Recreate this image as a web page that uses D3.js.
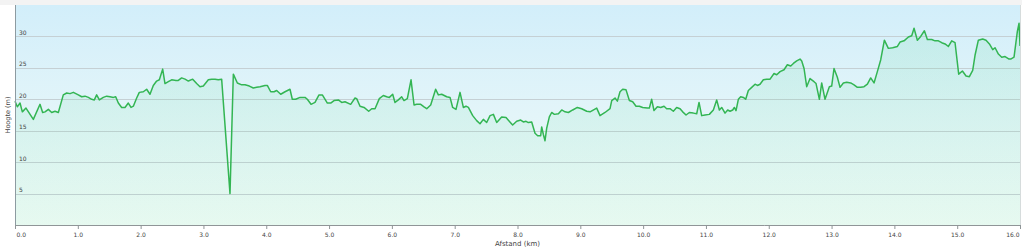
<!DOCTYPE html>
<html><head><meta charset="utf-8">
<script src="https://cdn.jsdelivr.net/npm/d3@7/dist/d3.min.js"></script>
<style>html,body{margin:0;padding:0;background:#fff;}svg{display:block;font-family:"DejaVu Sans",Verdana,sans-serif;}</style>
</head><body><svg id="c" width="1022" height="249"></svg>
<script>
const distKm = [0.000,0.037,0.080,0.117,0.175,0.292,0.398,0.440,0.478,0.531,0.584,0.637,0.690,0.769,0.823,0.876,0.929,1.008,1.061,1.115,1.168,1.221,1.263,1.300,1.343,1.406,1.460,1.513,1.566,1.603,1.645,1.698,1.751,1.804,1.847,1.884,1.937,1.979,2.043,2.096,2.149,2.202,2.255,2.298,2.351,2.388,2.441,2.494,2.563,2.600,2.653,2.707,2.760,2.829,2.892,2.945,2.998,3.078,3.131,3.184,3.237,3.290,3.423,3.476,3.540,3.609,3.662,3.731,3.794,3.847,3.901,3.980,4.017,4.071,4.124,4.166,4.230,4.299,4.378,4.415,4.468,4.538,4.617,4.654,4.713,4.776,4.840,4.893,4.973,5.026,5.079,5.148,5.201,5.254,5.344,5.413,5.440,5.493,5.557,5.631,5.679,5.732,5.800,5.864,5.917,5.960,6.013,6.050,6.103,6.156,6.193,6.246,6.305,6.353,6.395,6.459,6.512,6.555,6.618,6.697,6.740,6.793,6.873,6.926,6.968,7.021,7.085,7.138,7.180,7.218,7.287,7.350,7.403,7.456,7.509,7.563,7.616,7.669,7.748,7.817,7.923,7.987,8.051,8.093,8.136,8.173,8.226,8.279,8.321,8.369,8.385,8.412,8.438,8.465,8.507,8.544,8.587,8.651,8.704,8.757,8.810,8.879,8.953,9.022,9.102,9.155,9.261,9.314,9.393,9.473,9.500,9.553,9.590,9.632,9.675,9.728,9.781,9.834,9.887,9.940,9.993,10.067,10.099,10.136,10.173,10.227,10.280,10.333,10.375,10.428,10.481,10.534,10.588,10.630,10.683,10.736,10.800,10.853,10.890,10.932,10.985,11.054,11.118,11.171,11.214,11.251,11.304,11.346,11.384,11.426,11.452,11.479,11.516,11.553,11.596,11.633,11.675,11.729,11.782,11.819,11.861,11.914,11.967,12.021,12.084,12.127,12.180,12.243,12.296,12.350,12.392,12.445,12.498,12.525,12.562,12.604,12.657,12.721,12.753,12.806,12.843,12.896,12.965,13.002,13.039,13.092,13.135,13.188,13.241,13.305,13.358,13.411,13.464,13.517,13.570,13.623,13.676,13.729,13.783,13.841,13.904,13.973,14.048,14.090,14.154,14.223,14.276,14.313,14.366,14.419,14.478,14.525,14.594,14.647,14.701,14.754,14.807,14.860,14.913,14.966,15.024,15.083,15.141,15.194,15.247,15.284,15.337,15.406,15.459,15.513,15.566,15.603,15.656,15.709,15.762,15.826,15.852,15.905,15.958,15.985,16.000];
const elevM = [19.7,18.8,19.4,18.0,18.6,16.8,19.2,17.9,18.0,18.4,17.9,18.1,17.9,20.7,21.0,20.9,21.1,20.7,20.4,20.5,20.3,20.0,19.9,20.7,19.9,20.3,20.5,20.4,20.3,20.4,19.4,18.7,18.7,19.4,18.7,18.9,20.2,21.1,21.2,21.6,20.8,22.2,22.9,23.1,24.8,22.5,22.8,23.1,23.0,23.0,23.4,23.2,22.9,23.2,22.5,22.0,22.1,23.1,23.2,23.2,23.1,23.2,5.0,24.0,22.6,22.3,22.3,22.1,21.8,21.9,22.0,22.2,22.2,21.2,21.2,21.4,20.8,21.2,21.6,20.0,20.0,20.3,20.3,20.0,19.2,19.5,20.7,20.7,19.4,19.4,19.8,19.9,19.5,19.6,19.2,20.2,20.1,18.9,18.7,18.1,18.5,18.5,20.1,20.6,20.4,20.3,20.8,19.5,19.9,20.4,19.8,20.1,23.1,19.1,19.2,19.2,18.8,18.5,19.1,21.6,20.7,20.8,20.4,20.3,18.7,18.4,21.1,18.7,18.9,18.7,17.4,16.6,16.1,16.8,16.3,17.4,17.6,16.3,17.2,17.1,15.9,16.5,16.7,16.4,16.5,16.3,16.4,14.6,14.2,14.2,15.6,14.4,13.4,15.4,17.2,17.9,17.6,17.7,18.3,18.0,17.9,18.3,18.7,18.5,18.1,18.0,18.6,17.4,17.9,18.5,19.8,20.2,19.7,21.2,21.6,21.5,19.8,19.6,18.9,18.9,18.7,18.6,18.6,20.0,18.2,18.8,18.7,18.9,18.5,18.5,18.1,18.7,18.5,18.0,17.5,17.9,17.8,17.7,19.5,17.4,17.5,17.6,18.3,19.9,18.3,18.7,17.8,18.3,18.1,18.3,18.7,18.2,20.0,20.4,20.3,20.0,21.4,21.9,22.4,22.2,22.4,23.1,23.2,23.2,24.1,23.9,24.4,24.7,25.5,25.3,25.7,26.1,26.4,26.1,24.9,22.0,23.3,22.8,22.5,20.0,22.6,20.0,22.0,22.1,24.9,23.5,21.9,22.6,22.7,22.6,22.3,21.9,21.9,22.0,22.4,23.4,22.6,24.4,26.3,29.4,28.1,28.2,28.4,29.1,29.3,29.9,30.1,31.3,29.4,30.0,30.9,29.5,29.5,29.3,29.3,29.0,28.8,28.4,29.3,29.0,24.0,24.5,23.7,23.6,24.6,27.0,29.4,29.6,29.4,28.8,27.9,28.2,27.2,26.7,26.8,26.4,26.4,26.7,30.8,32.1,28.5];
const xTickValues = [0,1,2,3,4,5,6,7,8,9,10,11,12,13,14,15,16];
const yTickValues = [5,10,15,20,25,30];
const xTitle = "Afstand (km)";
const yTitle = "Hoogte (m)";

const W = 1022, H = 249;
const L = 15, R = 1020, T = 5, B = 225;
const svg = d3.select("#c");
const x = d3.scaleLinear().domain([0,16]).range([L,R]);
const y = d3.scaleLinear().domain([0,35]).range([B,T]);
const data = distKm.map((d,i)=>({d, e: elevM[i]}));

const defs = svg.append("defs");
const bg = defs.append("linearGradient").attr("id","bg").attr("x1",0).attr("y1",0).attr("x2",0).attr("y2",1);
bg.append("stop").attr("offset","0").attr("stop-color","#d2eefa");
bg.append("stop").attr("offset","0.5").attr("stop-color","#e3f5f9");
bg.append("stop").attr("offset","1").attr("stop-color","#eefbf5");
const ag = defs.append("linearGradient").attr("id","ag").attr("x1",0).attr("y1",0).attr("x2",0).attr("y2",1);
ag.append("stop").attr("offset","0").attr("stop-color","#5fd89a").attr("stop-opacity",0.16);
ag.append("stop").attr("offset","1").attr("stop-color","#6fdca0").attr("stop-opacity",0.06);

svg.append("rect").attr("x",0).attr("y",0).attr("width",W).attr("height",T).attr("fill","#f3f3f3");
svg.append("rect").attr("x",L).attr("y",T).attr("width",R-L).attr("height",B-T).attr("fill","url(#bg)");

// grid
svg.append("g").selectAll("line").data(yTickValues).join("line")
  .attr("x1",L).attr("x2",R).attr("y1",d=>Math.round(y(d))+0.5).attr("y2",d=>Math.round(y(d))+0.5)
  .attr("stroke","#c5d0d4").attr("stroke-width",1);

// area + line
svg.append("path").datum(data)
  .attr("d", d3.area().x(p=>x(p.d)).y0(B).y1(p=>y(p.e)))
  .attr("fill","url(#ag)");
svg.append("path").datum(data)
  .attr("d", d3.line().x(p=>x(p.d)).y(p=>y(p.e)))
  .attr("fill","none").attr("stroke","#33b553").attr("stroke-width",1.5).attr("stroke-linejoin","round");

// right border
svg.append("line").attr("x1",R+0.5).attr("x2",R+0.5).attr("y1",T).attr("y2",B).attr("stroke","#d6dcdc");

// y labels
svg.append("g").selectAll("text").data(yTickValues).join("text")
  .attr("x",L+4).attr("y",d=>y(d)-1.5).text(d=>d)
  .attr("font-size","6px").attr("fill","#444");

// left axis
svg.append("line").attr("x1",L+0.5).attr("x2",L+0.5).attr("y1",T).attr("y2",B).attr("stroke","#8d9ba1");

// bottom axis
const xa = svg.append("g").attr("transform",`translate(0,${B})`)
  .call(d3.axisBottom(x).tickValues(xTickValues).tickSize(4).tickSizeOuter(0).tickFormat(d3.format(".1f")));
xa.select(".domain").attr("stroke","#8f9597");
xa.selectAll(".tick line").attr("stroke","#8f9597");
xa.selectAll(".tick text").attr("font-size","6px").attr("fill","#444").attr("font-family","DejaVu Sans").attr("y",7.5)
  .attr("text-anchor",(d,i)=> i===0 ? "start" : (i===xTickValues.length-1 ? "end" : "middle"))
  .attr("dx",(d,i)=> i===0 ? "1" : (i===xTickValues.length-1 ? "-1" : "0"));

svg.append("text").attr("x",(L+R)/2).attr("y",246).attr("text-anchor","middle")
  .attr("font-size","7px").attr("fill","#444").text(xTitle);
svg.append("text").attr("transform",`translate(10,${(T+B)/2}) rotate(-90)`).attr("text-anchor","middle")
  .attr("font-size","6.5px").attr("fill","#444").text(yTitle);
</script></body></html>
